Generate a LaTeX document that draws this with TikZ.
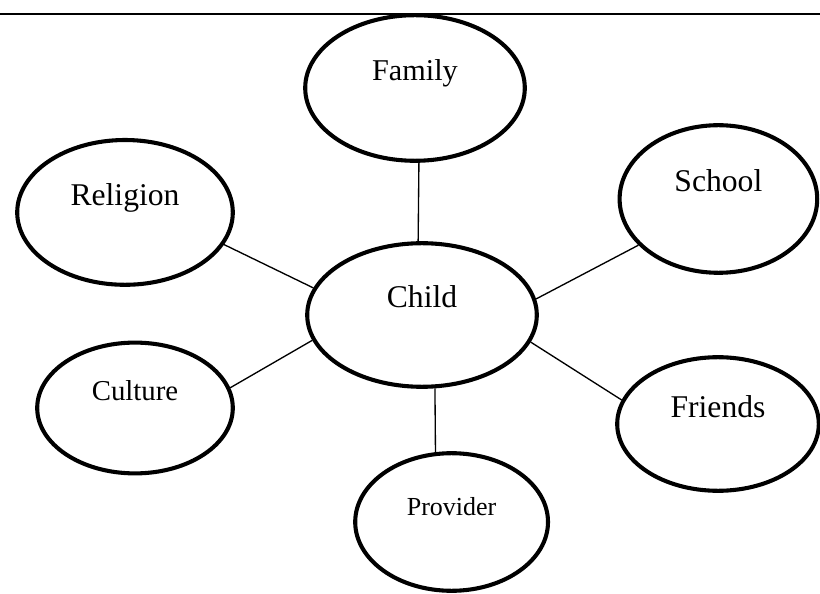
\documentclass[tikz,border=0pt]{standalone}
\usepackage{fontspec}
\setmainfont{Liberation Serif}
\usetikzlibrary{shapes}
\tikzstyle{bubble}=[draw,ellipse,line width=2.9pt,inner sep=0pt,text height=0.4cm,text depth=0.75cm]
\tikzstyle{link}=[line width=0.95pt]
\newcommand{\newBubble}[4]{\node[bubble,#4](#1) at #3 {#2};}
\newcommand{\newLink}[2]{\path[link] (#1) edge (#2);}

\begin{document}
\begin{tikzpicture}[font=\fontsize{22.5}{26}\selectfont]
        \useasboundingbox (0,0) rectangle (20.5,-14.85);
        \draw[line width=1.9pt] (0,-0.35) -- (20.5,-0.35);
        \newBubble{child}{Child}{(10.55,-7.875)}{minimum width=5.74cm,minimum height=3.59cm}
        \newBubble{family}{Family}{(10.375,-2.2)}{minimum width=5.49cm,minimum height=3.64cm,font=\fontsize{21.5}{25}\selectfont}
        \newBubble{religion}{Religion}{(3.125,-5.31)}{minimum width=5.39cm,minimum height=3.62cm}
        \newBubble{school}{School}{(17.96,-4.975)}{minimum width=4.94cm,minimum height=3.69cm}
        \newBubble{culture}{Culture}{(3.375,-10.2)}{minimum width=4.89cm,minimum height=3.27cm,font=\fontsize{20.5}{24}\selectfont}
        \newBubble{friends}{Friends}{(17.95,-10.6)}{minimum width=5.04cm,minimum height=3.34cm}
        \newBubble{provider}{Provider}{(11.29,-13.05)}{minimum width=4.82cm,minimum height=3.44cm,font=\fontsize{18.5}{22}\selectfont}
        \newLink{family.-87.5}{child.93}
        \newLink{religion.-18}{child.166}
        \newLink{school.-150.4}{child.8.4}
        \newLink{culture.12.2}{child.-167.4}
        \newLink{friends.166.9}{child.-14.6}
        \newLink{provider.103.8}{child.-80.8}
\end{tikzpicture}
\end{document}
